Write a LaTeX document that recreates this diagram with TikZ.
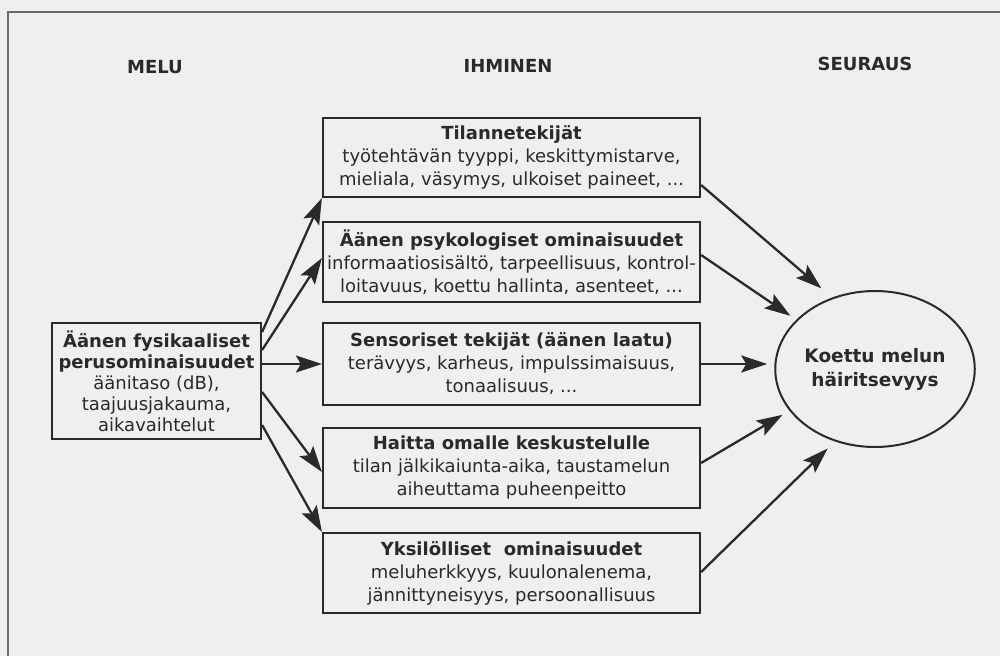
\documentclass[tikz,border=0pt]{standalone}
\usepackage{fontspec}
\setmainfont{DejaVu Sans}
\usetikzlibrary{arrows.meta,shapes.geometric}
\definecolor{ink}{HTML}{2A2A2A}
\definecolor{paper}{HTML}{EEEFF0}
\definecolor{frame}{HTML}{6A6A6A}
\begin{document}
\begin{tikzpicture}[x=1pt,y=-1pt,
  box/.style={draw=ink, line width=2.2pt, rectangle, inner sep=0pt, align=center, text=ink,
    font=\fontsize{18}{23}\selectfont, minimum width=377pt, minimum height=80pt},
  lbox/.style={box, minimum width=209pt, minimum height=116pt, font=\fontsize{18}{21}\selectfont},
  ell/.style={draw=ink, line width=2pt, ellipse, minimum width=192pt, minimum height=156pt,
    inner sep=0pt, align=center, text=ink, font=\fontsize{18.5}{24}\selectfont\bfseries},
  arr/.style={draw=ink, line width=2.3pt, -{Stealth[length=26pt,width=17pt,inset=5pt]}},
  head/.style={font=\fontsize{18}{20}\selectfont\bfseries, text=ink}]
\fill[paper] (0,0) rectangle (1000,656);
\useasboundingbox (0,0) rectangle (1000,656);
\draw[frame, line width=1.2pt] (8,656) -- (8,12) -- (1000,12);

\node[head] (hmelu) at (155,67) {MELU};
\node[head] (hihm) at (508,66) {IHMINEN};
\node[head] (hseur) at (865,64) {SEURAUS};

\node[lbox] (L) at (156.5,381) {\textbf{Äänen fysikaaliset}\\\textbf{perusominaisuudet}\\äänitaso (dB),\\taajuusjakauma,\\aikavaihtelut};

\node[box, minimum height=79pt] (b1) at (511.5,157.5) {\textbf{Tilannetekijät}\\työtehtävän tyyppi, keskittymistarve,\\mieliala, väsymys, ulkoiset paineet, ...};
\node[box] (b2) at (511.5,262) {\textbf{Äänen psykologiset ominaisuudet}\\informaatiosisältö, tarpeellisuus, kontrol-\\loitavuus, koettu hallinta, asenteet, ...};
\node[box, minimum height=82pt] (b3) at (511.5,364) {\textbf{Sensoriset tekijät (äänen laatu)}\\terävyys, karheus, impulssimaisuus,\\tonaalisuus, ...};
\node[box] (b4) at (511.5,468) {\textbf{Haitta omalle keskustelulle}\\tilan jälkikaiunta-aika, taustamelun\\aiheuttama puheenpeitto};
\node[box] (b5) at (511.5,573) {\textbf{Yksilölliset\ \ ominaisuudet}\\meluherkkyys, kuulonalenema,\\jännittyneisyys, persoonallisuus};

\node[ell] (E) at (875,369) {Koettu melun\\häiritsevyys};

\draw[arr] ([yshift=49pt]L.east) -- (b1.south west);
\draw[arr] ([yshift=31pt]L.east) -- ([yshift=4pt]b2.west);
\draw[arr] (L.east |- b3.west) -- (b3.west);
\draw[arr] ([yshift=-11pt]L.east) -- ([yshift=-4pt]b4.west);
\draw[arr] ([yshift=-44pt]L.east) -- (b5.north west);

\draw[arr, shorten >=14pt] ([yshift=-27.5pt]b1.east) -- (E.121);
\draw[arr, shorten >=7pt] ([yshift=7pt]b2.east) -- (E.148);
\draw[arr, shorten >=7pt] (b3.east) -- (b3.east -| E.west);
\draw[arr, shorten >=8pt] ([yshift=5pt]b4.east) -- (E.206);
\draw[arr, shorten >=10pt] ([yshift=1pt]b5.east) -- (E.241);
\end{tikzpicture}
\end{document}
